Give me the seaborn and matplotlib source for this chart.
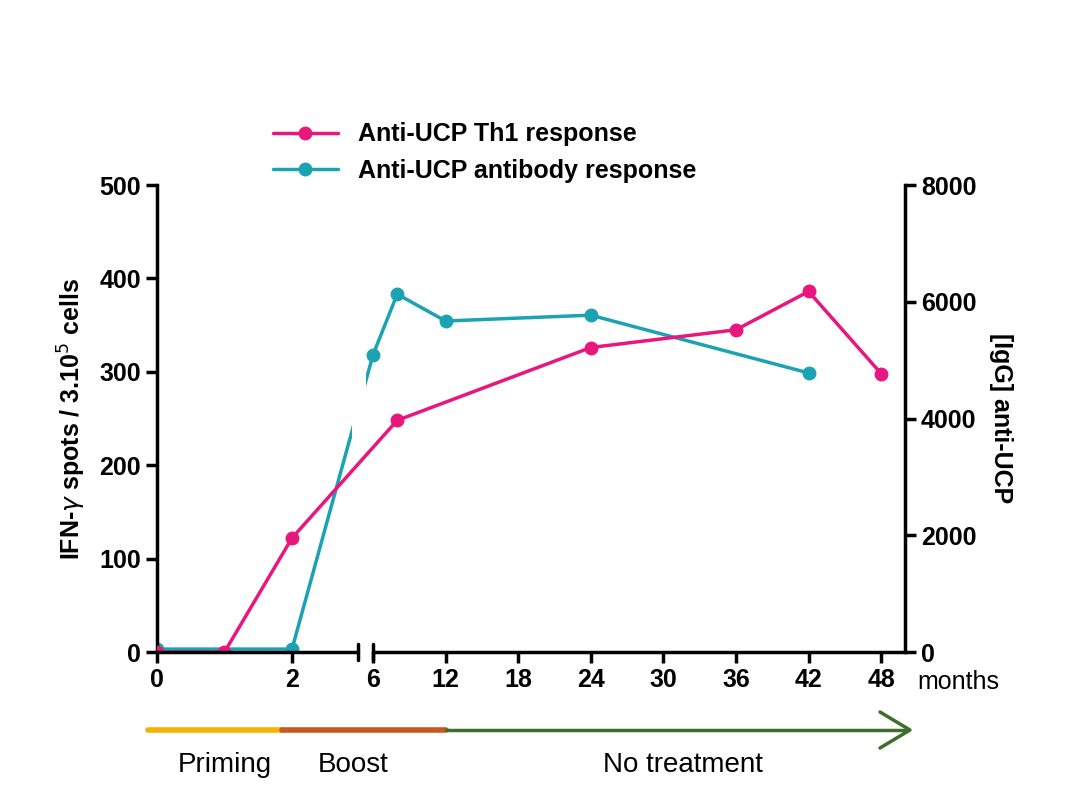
import matplotlib

matplotlib.use("Agg")
import matplotlib.pyplot as plt
import seaborn as sns
from matplotlib.lines import Line2D

PINK = "#e8177d"
CYAN = "#1ba3b3"

th1_months = [0, 1, 2, 8, 24, 36, 42, 48]
th1_spots = [0, 0, 122, 248, 326, 345, 386, 298]
igg_months = [0, 2, 6, 8, 12, 24, 42]
igg_titer = [50, 50, 5090, 6130, 5670, 5770, 4780]
tick_months = [0, 2, 6, 12, 18, 24, 30, 36, 42, 48]


def pos(m):
    # broken x axis: 0-2 months wide, 6-48 months compressed
    if m <= 2:
        return 157 + 67.5 * m
    if m >= 6:
        return 373 + 12.1 * (m - 6)
    return 292 + (m - 2) * (373 - 292) / 4


sns.set_theme(style="white")
plt.rcParams["font.family"] = "Liberation Sans"
plt.rcParams["text.color"] = "black"
plt.rcParams["axes.labelcolor"] = "black"
fig = plt.figure(figsize=(10.87, 8.08), dpi=100, facecolor="white")
ax = fig.add_axes([157 / 1087, 1 - 652 / 808, (905 - 157) / 1087, (652 - 185) / 808])
ax2 = ax.twinx()

ax2.plot([pos(m) for m in igg_months], igg_titer, color=CYAN, lw=2.5,
         marker="o", ms=9, zorder=3)
ax.plot([pos(m) for m in th1_months], th1_spots, color=PINK, lw=2.5,
        marker="o", ms=9, zorder=3)
ax.set_zorder(ax2.get_zorder() + 1)
ax.patch.set_visible(False)

ax.set_xlim(157, 905)
ax.set_ylim(0, 500)
ax2.set_ylim(0, 8000)
ax.set_yticks([0, 100, 200, 300, 400, 500])
ax2.set_yticks([0, 2000, 4000, 6000, 8000])
ax.set_xticks([pos(m) for m in tick_months], [str(m) for m in tick_months])

for a in (ax, ax2):
    a.spines["top"].set_visible(False)
    a.spines["bottom"].set_visible(False)
    a.tick_params(axis="both", direction="out", length=8, width=2.5,
                  labelsize=18, colors="black")
    for lab in a.get_xticklabels() + a.get_yticklabels():
        lab.set_fontweight("bold")
ax.spines["left"].set_linewidth(2.5)
ax.spines["left"].set_color("black")
ax2.spines["right"].set_linewidth(2.5)
ax2.spines["right"].set_color("black")
ax.spines["right"].set_visible(False)
ax2.spines["left"].set_visible(False)
ax.tick_params(axis="x", bottom=True, length=8, width=2.5)

# white gap over the break and broken bottom axis
ax.axvspan(352, 366, ymin=0.03, ymax=0.62, color="white", zorder=2.5, lw=0)
ax.plot([157, 358], [0, 0], color="black", lw=2.5, clip_on=False, zorder=4)
ax.plot([373, 905], [0, 0], color="black", lw=2.5, clip_on=False, zorder=4)
for bx in (358, 373):
    ax.plot([bx, bx], [-9, 9], color="black", lw=2.5, clip_on=False, zorder=4)

ax.set_ylabel("IFN-$\\gamma$ spots / 3.10$^5$ cells", fontsize=18, fontweight="bold", labelpad=8)
ax2.set_ylabel("[IgG] anti-UCP", fontsize=18, fontweight="bold", rotation=270, labelpad=26)

handles = [Line2D([], [], color=PINK, lw=2.5, marker="o", ms=9),
           Line2D([], [], color=CYAN, lw=2.5, marker="o", ms=9)]
fig.legend(handles, ["Anti-UCP Th1 response", "Anti-UCP antibody response"],
           loc="upper left", bbox_to_anchor=(250 / 1087, 1 - 100 / 808),
           frameon=False, prop={"size": 18, "weight": "bold"},
           handlelength=2.6, labelspacing=0.5)

fig.text(917 / 1087, 1 - 682 / 808, "months", fontsize=18, va="center")

# treatment timeline
tl = fig.add_axes([0, 0, 1, 1], facecolor="none")
tl.set_xlim(0, 1087)
tl.set_ylim(808, 0)
tl.axis("off")
tl.plot([148, 282], [730, 730], color="#f5b300", lw=4)
tl.plot([282, 446], [730, 730], color="#c8581c", lw=4)
tl.plot([446, 905], [730, 730], color="#3f6e2c", lw=2.5)
tl.plot([880, 910, 880], [712, 730, 748], color="#3f6e2c", lw=2.5)
tl.text(225, 765, "Priming", fontsize=20, ha="center", va="center")
tl.text(353, 765, "Boost", fontsize=20, ha="center", va="center")
tl.text(683, 765, "No treatment", fontsize=20, ha="center", va="center")

fig.savefig("out.png", dpi=100)
